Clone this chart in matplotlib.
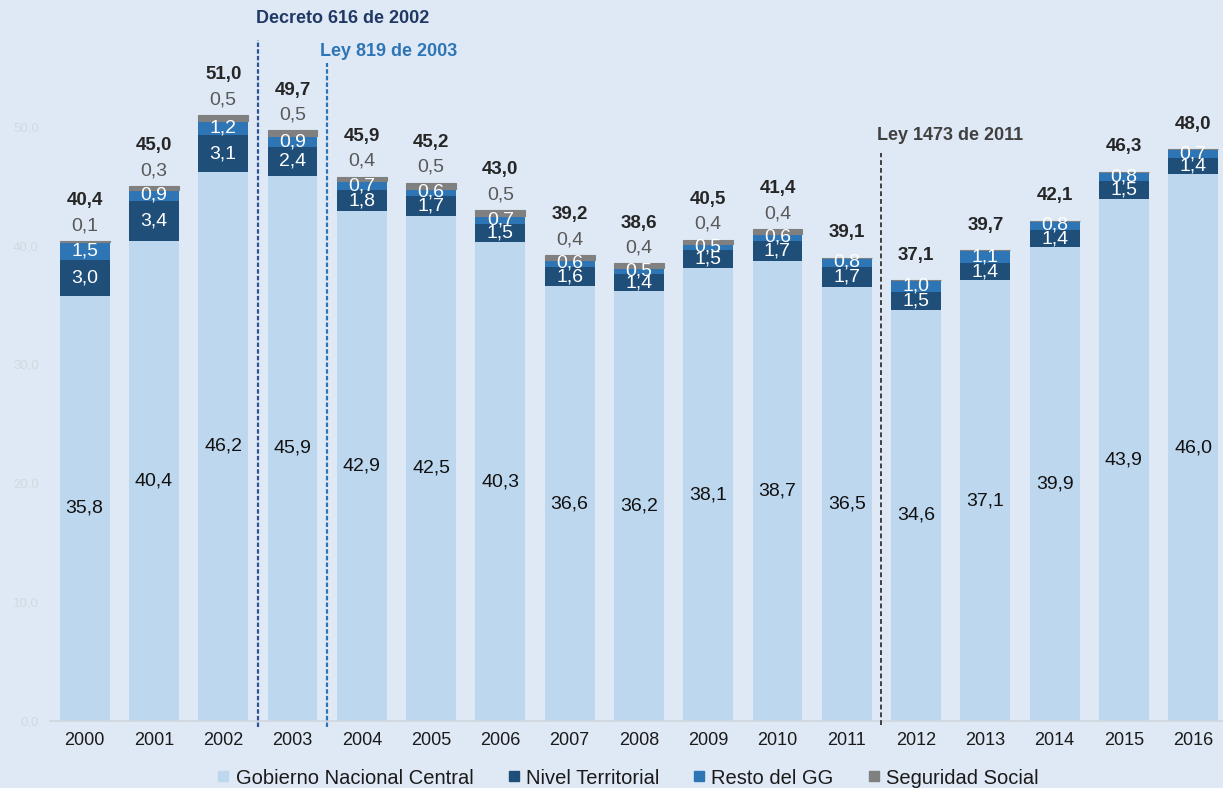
import matplotlib
matplotlib.use("Agg")
import matplotlib.pyplot as plt
from matplotlib.lines import Line2D
import numpy as np

plt.rcParams['font.family'] = ['Liberation Sans', 'DejaVu Sans']

years = ['2000', '2001', '2002', '2003', '2004', '2005', '2006', '2007', '2008',
         '2009', '2010', '2011', '2012', '2013', '2014', '2015', '2016']
gobierno_central = [35.8, 40.4, 46.2, 45.9, 42.9, 42.5, 40.3, 36.6, 36.2,
                    38.1, 38.7, 36.5, 34.6, 37.1, 39.9, 43.9, 46.0]
nivel_territorial = [3.0, 3.4, 3.1, 2.4, 1.8, 1.7, 1.5, 1.6, 1.4,
                     1.5, 1.7, 1.7, 1.5, 1.4, 1.4, 1.5, 1.4]
resto_gg = [1.5, 0.9, 1.2, 0.9, 0.7, 0.6, 0.7, 0.6, 0.5,
            0.5, 0.6, 0.8, 1.0, 1.1, 0.8, 0.8, 0.7]
seguridad_social = [0.1, 0.3, 0.5, 0.5, 0.4, 0.5, 0.5, 0.4, 0.4,
                    0.4, 0.4, 0.0, 0.0, 0.0, 0.0, 0.0, 0.0]
totales = [40.4, 45.0, 51.0, 49.7, 45.9, 45.2, 43.0, 39.2, 38.6,
           40.5, 41.4, 39.1, 37.1, 39.7, 42.1, 46.3, 48.0]
series_names = ['Gobierno Nacional Central', 'Nivel Territorial',
                'Resto del GG', 'Seguridad Social']

BG = '#dfe9f5'
C_GNC = '#bdd7ee'
C_NT = '#1f4e79'
C_RESTO = '#2e75b6'
C_SS = '#808080'


def fmt(v):
    return f"{v:.1f}".replace('.', ',')


fig = plt.figure(figsize=(12.23, 7.88), dpi=100, facecolor=BG)
ax = fig.add_axes([50 / 1223, 67 / 788, 1173 / 1223, 713 / 788])
ax.set_facecolor(BG)

x = np.arange(len(years))
w = 0.72
gnc = np.array(gobierno_central)
nt = np.array(nivel_territorial)
rg = np.array(resto_gg)
ss = np.array(seguridad_social)

ax.bar(x, gnc, w, color=C_GNC, zorder=2)
ax.bar(x, nt, w, bottom=gnc, color=C_NT, zorder=2)
ax.bar(x, rg, w, bottom=gnc + nt, color=C_RESTO, zorder=2)
ax.bar(x, ss, w, bottom=gnc + nt + rg, color=C_SS, edgecolor=C_SS,
       linewidth=0.8, zorder=2)

lab_fs = 14
for i in range(len(years)):
    ax.text(x[i], gnc[i] / 2, fmt(gnc[i]), ha='center', va='center',
            fontsize=lab_fs, color='#111111', zorder=4)
    ax.text(x[i], gnc[i] + nt[i] / 2, fmt(nt[i]), ha='center', va='center',
            fontsize=lab_fs, color='white', zorder=4)
    ax.text(x[i], gnc[i] + nt[i] + rg[i] / 2, fmt(rg[i]), ha='center',
            va='center', fontsize=lab_fs, color='white', zorder=4)
    top = gnc[i] + nt[i] + rg[i] + ss[i]
    if ss[i] > 0:
        ax.annotate(fmt(ss[i]), (x[i], top), xytext=(0, 11),
                    textcoords='offset points', ha='center', va='center',
                    fontsize=lab_fs, color='#595959', zorder=4)
        off = 29
    else:
        off = 18
    ax.annotate(fmt(totales[i]), (x[i], top), xytext=(0, off),
                textcoords='offset points', ha='center', va='center',
                fontsize=13.5, fontweight='bold', color='#262626', zorder=4)

# Reference lines for the legal milestones
ax.plot([2.5, 2.5], [-0.5, 57.3], color='#2f5597', lw=1.6,
        linestyle=(0, (2, 1)), clip_on=False, zorder=3)
ax.text(2.48, 59.15, 'Decreto 616 de 2002', ha='left', va='center',
        fontsize=13, fontweight='bold', color='#203864')
ax.plot([3.5, 3.5], [-0.5, 55.4], color='#2e75b6', lw=1.6,
        linestyle=(0, (2, 1)), clip_on=False, zorder=3)
ax.text(3.39, 56.3, 'Ley 819 de 2003', ha='left', va='center',
        fontsize=13, fontweight='bold', color='#2e75b6')
ax.plot([11.5, 11.5], [-0.3, 47.8], color='#404040', lw=1.4,
        linestyle=(0, (2.5, 1.5)), clip_on=False, zorder=3)
ax.text(11.43, 49.3, 'Ley 1473 de 2011', ha='left', va='center',
        fontsize=13, fontweight='bold', color='#404040')

ax.set_xlim(-0.5, 16.43)
ax.set_ylim(0, 60)
ax.set_xticks(x)
ax.set_xticklabels(years)
ax.set_yticks(np.arange(0, 51, 10))
ax.set_yticklabels([fmt(v) for v in np.arange(0, 51, 10)])
ax.tick_params(axis='x', length=0, pad=8, labelsize=13, labelcolor='#1a1a1a')
ax.tick_params(axis='y', length=0, pad=8, labelsize=9.5, labelcolor='#d2d8df')
for s in ['top', 'right', 'left']:
    ax.spines[s].set_visible(False)
ax.spines['bottom'].set_color('#d0d6dd')
ax.spines['bottom'].set_linewidth(1.2)

handles = [Line2D([], [], marker='s', linestyle='none', markersize=7.5,
                  markerfacecolor=c, markeredgecolor=c)
           for c in [C_GNC, C_NT, C_RESTO, C_SS]]
fig.legend(handles, series_names, loc='center', bbox_to_anchor=(628 / 1223, 1 - 778 / 788),
           ncol=4, frameon=False, fontsize=14.5, handlelength=0.6,
           handletextpad=0.3, columnspacing=1.7, labelcolor='#1a1a1a',
           borderaxespad=0, borderpad=0)

fig.savefig('out.png', dpi=100, facecolor=BG)
